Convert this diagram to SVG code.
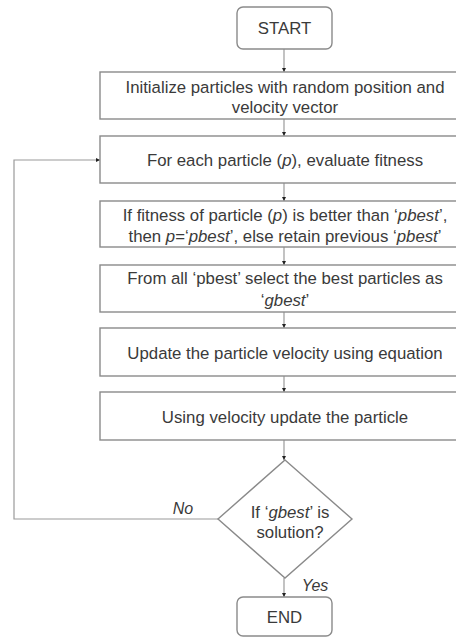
<svg xmlns="http://www.w3.org/2000/svg" width="456" height="637" viewBox="0 0 456 637">
<defs>
<marker id="ah" viewBox="0 0 6 6" refX="6" refY="3" markerWidth="4" markerHeight="4" orient="auto" markerUnits="userSpaceOnUse">
<path d="M0,0 L6,3 L0,6 Z" fill="#222"/>
</marker>
<style>
.box{fill:#fff;stroke:#8a8a8a;stroke-width:1.4}
.t{font-family:"Liberation Sans",Arial,sans-serif;font-size:16.8px;fill:#3a3a3a;text-anchor:middle}
.l{font-family:"Liberation Sans",Arial,sans-serif;font-size:16px;fill:#3a3a3a;font-style:italic;text-anchor:middle}
.c{fill:none;stroke:#9a9a9a;stroke-width:1.2}
.i{font-style:italic}
</style>
</defs>
<rect width="456" height="637" fill="#fff"/>
<g id="connectors">
<path class="c" d="M284,49 V72" marker-end="url(#ah)"/>
<path class="c" d="M284,119 V136" marker-end="url(#ah)"/>
<path class="c" d="M284,183 V201" marker-end="url(#ah)"/>
<path class="c" d="M284,247 V265" marker-end="url(#ah)"/>
<path class="c" d="M284,312 V328" marker-end="url(#ah)"/>
<path class="c" d="M284,376 V392" marker-end="url(#ah)"/>
<path class="c" d="M284,440 V460" marker-end="url(#ah)"/>
<path class="c" d="M284,578 V597" marker-end="url(#ah)"/>
<path class="c" d="M218,519 H14 V160 H100" marker-end="url(#ah)"/>
<text class="l" x="183" y="514">No</text>
<text class="l" x="315" y="591">Yes</text>
</g>
<g id="start">
<rect class="box" x="237" y="7" width="95" height="42" rx="6"/>
<text class="t" x="284.5" y="34">START</text>
</g>
<g id="init">
<rect class="box" x="100" y="72" width="368" height="47"/>
<text class="t" x="285" y="93">Initialize particles with random position and</text>
<text class="t" x="285" y="113">velocity vector</text>
</g>
<g id="evaluate">
<rect class="box" x="100" y="136" width="368" height="47"/>
<text class="t" x="285" y="166">For each particle (<tspan class="i">p</tspan>), evaluate fitness</text>
</g>
<g id="pbest">
<rect class="box" x="100" y="201" width="368" height="46"/>
<text class="t" x="285" y="221">If fitness of particle (<tspan class="i">p</tspan>) is better than ‘<tspan class="i">pbest</tspan>’,</text>
<text class="t" x="285" y="242">then <tspan class="i">p</tspan>=‘<tspan class="i">pbest</tspan>’, else retain previous ‘<tspan class="i">pbest</tspan>’</text>
</g>
<g id="gbest">
<rect class="box" x="100" y="265" width="368" height="47"/>
<text class="t" x="285" y="284">From all ‘pbest’ select the best particles as</text>
<text class="t" x="285" y="306">‘<tspan class="i">gbest</tspan>’</text>
</g>
<g id="velocity">
<rect class="box" x="100" y="328" width="368" height="48"/>
<text class="t" x="285" y="359">Update the particle velocity using equation</text>
</g>
<g id="position">
<rect class="box" x="100" y="392" width="368" height="48"/>
<text class="t" x="285" y="423">Using velocity update the particle</text>
</g>
<g id="decision">
<path class="box" d="M285,460 L352,519 L285,578 L218,519 Z"/>
<text class="t" x="290" y="518">If ‘<tspan class="i">gbest</tspan>’ is</text>
<text class="t" x="290" y="538">solution?</text>
</g>
<g id="end">
<rect class="box" x="237" y="597" width="95" height="39" rx="6"/>
<text class="t" x="284.5" y="623">END</text>
</g>
</svg>
